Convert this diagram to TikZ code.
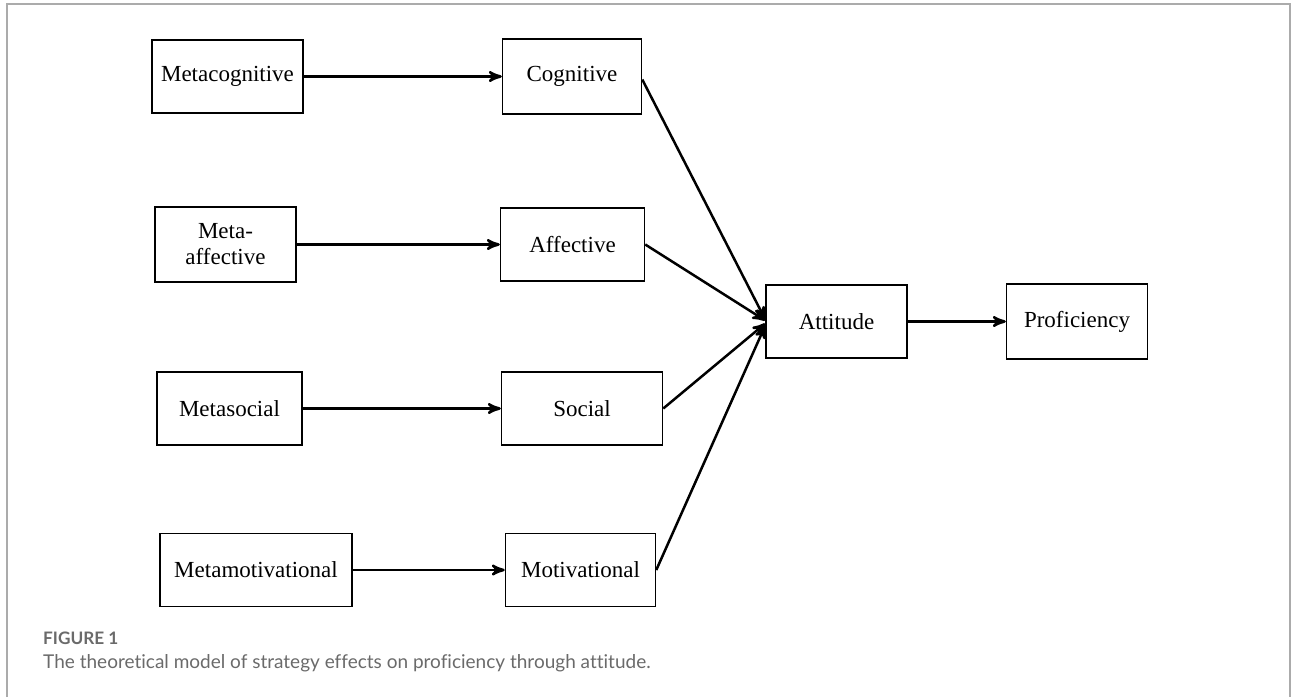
\documentclass[tikz,border=0pt]{standalone}
\usepackage{fontspec}
\setmainfont{Liberation Serif}
\newfontfamily\captionfont[Ligatures={NoCommon,NoContextual}]{Lato}
\usetikzlibrary{arrows,positioning}

\definecolor{framegray}{HTML}{ABABAB}
\definecolor{capgray}{HTML}{6A6A6A}

\begin{document}
\begin{tikzpicture}[x=0.5pt,y=-0.5pt,->,>=stealth',line width=1.25pt,
  box node/.style={rectangle,draw,line width=0.75pt,
  minimum height=36.5pt,align=center,inner sep=2pt,
  font=\fontsize{11.5}{13}\selectfont}]

  \useasboundingbox (0,0) rectangle (1293,697);
  \draw[-,framegray,line width=0.8pt] (7,697) -- (7,4) -- (1290,4) -- (1290,697);

  % strategy pairs, meta level on the left
  \node[box node, minimum width=75.5pt] (MCog) at (227.5,76.5) {Metacognitive};
  \node[box node, minimum width=69.5pt, minimum height=37.5pt] (Cog) [right=99pt of MCog] {Cognitive};
  \node[box node, minimum width=70.5pt, minimum height=37.5pt] (MAff) at (225.5,244.5) {Meta-\\affective};
  \node[box node, minimum width=72pt] (Aff) [right=101.5pt of MAff] {Affective};
  \node[box node, minimum width=72.5pt] (MSoc) at (229.5,408.5) {Metasocial};
  \node[box node, minimum width=80.5pt] (Soc) [right=99pt of MSoc] {Social};
  \node[box node, minimum width=96pt] (MMot) at (256,570) {Metamotivational};
  \node[box node, minimum width=75pt] (Mot) [right=76pt of MMot] {Motivational};

  \node[box node, minimum width=70.5pt] (Att) at (836.5,321.5) {Attitude};
  \node[box node, minimum width=70.5pt, minimum height=37.5pt] (Prof) [right=49pt of Att] {Proficiency};

  \path
    (MCog) edge (Cog)
    (MAff) edge (Aff)
    (MSoc) edge (Soc)
    (MMot) edge (Mot)
    ([yshift=-1.5pt]Cog.east) edge ([yshift=1pt]Att.west)
    (Aff.east) edge ([yshift=0.5pt]Att.west)
    (Soc.east) edge ([yshift=-1pt]Att.west)
    (Mot.east) edge ([yshift=-2pt]Att.west)
    (Att) edge (Prof);

  \node[anchor=base west,inner sep=0pt,text=capgray,
    font=\captionfont\bfseries\fontsize{8.6}{10}\selectfont] (FigNo) at (42,644) {FIGURE 1};
  \node[anchor=base west,inner sep=0pt,text=capgray,
    font=\captionfont\fontsize{9.5}{11}\selectfont] (FigCap) at (42,668)
    {The theoretical model of strategy effects on proficiency through attitude.};
\end{tikzpicture}
\end{document}
